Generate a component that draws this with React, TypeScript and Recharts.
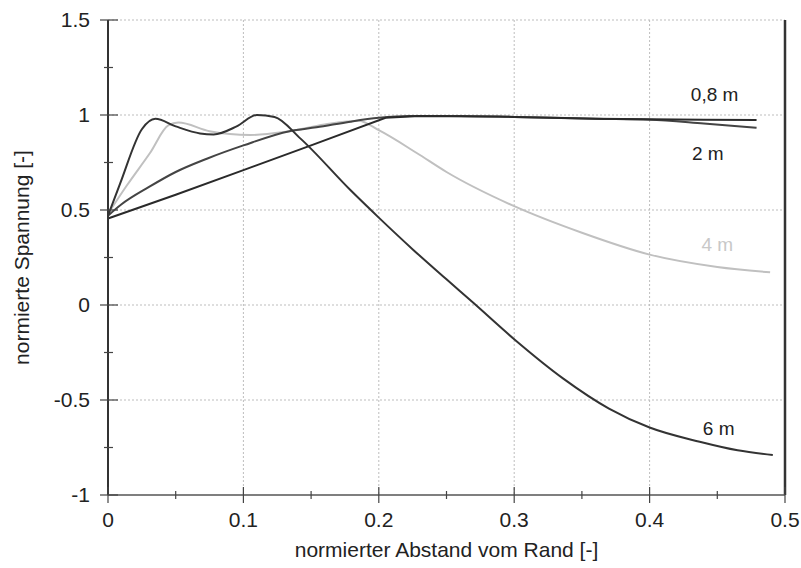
import React from "react";
import {
  CartesianGrid,
  Line,
  LineChart,
  ReferenceDot,
  ReferenceLine,
  XAxis,
  YAxis,
} from "recharts";

// ticks and grid
const xTicks = [0, 0.05, 0.1, 0.15, 0.2, 0.25, 0.3, 0.35, 0.4, 0.45, 0.5];
const xLabels = [0, 0.1, 0.2, 0.3, 0.4, 0.5];
const yTicks = [-1, -0.75, -0.5, -0.25, 0, 0.25, 0.5, 0.75, 1, 1.25, 1.5];
const yLabels = [-1, -0.5, 0, 0.5, 1, 1.5];
const xGrid = [0.1, 0.2, 0.3, 0.4];
const yGrid = [-0.5, 0, 0.5, 1, 1.5];

// 0,8 m
const x08 = [0, 0.05, 0.1, 0.15, 0.205, 0.23, 0.3, 0.36, 0.4, 0.44, 0.479];
const y08 = [0.455, 0.58, 0.71, 0.84, 0.985, 0.995, 0.99, 0.98, 0.977, 0.975, 0.974];

// 2 m
const x2 = [0, 0.01, 0.03, 0.05, 0.073, 0.1, 0.134, 0.154, 0.179, 0.2, 0.223, 0.26, 0.3, 0.36, 0.4, 0.44, 0.479];
const y2 = [0.47, 0.53, 0.62, 0.7, 0.77, 0.84, 0.915, 0.935, 0.965, 0.985, 0.995, 0.995, 0.99, 0.98, 0.975, 0.955, 0.933];

// 4 m
const x4 = [0, 0.014, 0.031, 0.0445, 0.052, 0.075, 0.105, 0.13, 0.16, 0.185, 0.2, 0.228, 0.25, 0.3, 0.35, 0.4, 0.45, 0.489];
const y4 = [0.48, 0.63, 0.8, 0.945, 0.96, 0.915, 0.895, 0.91, 0.95, 0.97, 0.92, 0.8, 0.7, 0.52, 0.38, 0.265, 0.2, 0.172];

// 6 m
const x6 = [0, 0.009, 0.025, 0.035, 0.05, 0.068, 0.078, 0.095, 0.11, 0.123, 0.142, 0.179, 0.2, 0.2255, 0.25, 0.27, 0.3, 0.336, 0.37, 0.4, 0.437, 0.465, 0.491];
const y6 = [0.47, 0.64, 0.925, 0.98, 0.94, 0.903, 0.898, 0.94, 1.0, 0.99, 0.877, 0.605, 0.46, 0.29, 0.135, 0.01, -0.18, -0.386, -0.545, -0.645, -0.72, -0.765, -0.79];

const toPoints = (xs: number[], ys: number[]) => xs.map((x, i) => ({ x, y: ys[i] }));

const font = "'Liberation Sans', Arial, sans-serif";

const YTick = (props: any) => {
  const { x, y, payload } = props;
  const major = yLabels.includes(payload.value);
  return (
    <g>
      <line x1={x - (major ? 8 : 4)} x2={x + (major ? 10 : 5)} y1={y} y2={y} stroke="#444" strokeWidth={1.2} />
      {major && (
        <text x={x - 18} y={y} dy={7} textAnchor="end" fontSize={21} fill="#222" fontFamily={font}>
          {String(payload.value)}
        </text>
      )}
    </g>
  );
};

const XTick = (props: any) => {
  const { x, y, payload } = props;
  const major = xLabels.includes(payload.value);
  return (
    <g>
      <line x1={x} x2={x} y1={y - (major ? 8 : 4)} y2={y + (major ? 8 : 4)} stroke="#444" strokeWidth={1.2} />
      {major && (
        <text x={x} y={y + 32} textAnchor="middle" fontSize={21} fill="#222" fontFamily={font}>
          {String(payload.value)}
        </text>
      )}
    </g>
  );
};

const labels = [
  { x: 0.448, y: 1.11, text: "0,8 m", color: "#222" },
  { x: 0.443, y: 0.8, text: "2 m", color: "#222" },
  { x: 0.45, y: 0.32, text: "4 m", color: "#c8c8c8" },
  { x: 0.451, y: -0.65, text: "6 m", color: "#222" },
];

export default function App() {
  return (
    <div style={{ position: "absolute", left: 0, top: 0, background: "#fff" }}>
      <LineChart width={801} height={568} margin={{ top: 20, right: 16, bottom: 0, left: 0 }}>
        <CartesianGrid
          stroke="#bdbdbd"
          strokeDasharray="2 2"
          horizontalValues={yGrid}
          verticalValues={xGrid}
        />
        <XAxis
          type="number"
          dataKey="x"
          domain={[0, 0.5]}
          ticks={xTicks}
          height={73}
          tickSize={0}
          tickMargin={0}
          tickLine={false}
          tick={<XTick />}
          axisLine={{ stroke: "#555", strokeWidth: 1.5 }}
          label={{
            value: "normierter Abstand vom Rand [-]",
            position: "insideBottom",
            offset: 11,
            fontSize: 21,
            fill: "#222",
            fontFamily: font,
          }}
        />
        <YAxis
          type="number"
          dataKey="y"
          domain={[-1, 1.5]}
          ticks={yTicks}
          width={108}
          tickSize={0}
          tickMargin={0}
          tickLine={false}
          tick={<YTick />}
          axisLine={{ stroke: "#333", strokeWidth: 2 }}
          label={{
            value: "normierte Spannung [-]",
            angle: -90,
            position: "insideLeft",
            offset: 22,
            fontSize: 21,
            fill: "#222",
            fontFamily: font,
            style: { textAnchor: "middle" },
          }}
        />
        <ReferenceLine x={0.5} stroke="#333" strokeWidth={2.5} />
        <Line data={toPoints(x4, y4)} dataKey="y" type="monotone" stroke="#c0c0c0" strokeWidth={2} dot={false} isAnimationActive={false} />
        <Line data={toPoints(x2, y2)} dataKey="y" type="monotone" stroke="#444" strokeWidth={2} dot={false} isAnimationActive={false} />
        <Line data={toPoints(x08, y08)} dataKey="y" type="linear" stroke="#2a2a2a" strokeWidth={2} dot={false} isAnimationActive={false} />
        <Line data={toPoints(x6, y6)} dataKey="y" type="monotone" stroke="#333" strokeWidth={2} dot={false} isAnimationActive={false} />
        {labels.map((l) => (
          <ReferenceDot
            key={l.text}
            x={l.x}
            y={l.y}
            r={0}
            stroke="none"
            label={{ value: l.text, position: "center", fill: l.color, fontSize: 19, fontFamily: font }}
          />
        ))}
      </LineChart>
    </div>
  );
}
